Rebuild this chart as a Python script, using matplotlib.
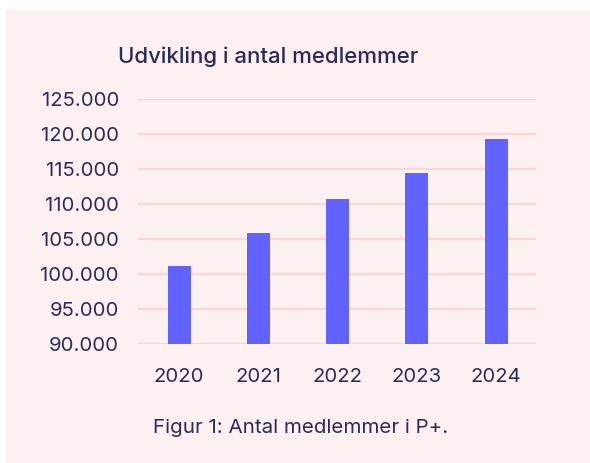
import matplotlib.pyplot as plt
from matplotlib.patches import Rectangle
from matplotlib.ticker import FuncFormatter

years = ["2020", "2021", "2022", "2023", "2024"]
members = [101200, 105900, 110750, 114450, 119300]
y_ticks = [90000, 95000, 100000, 105000, 110000, 115000, 120000, 125000]

navy = "#2b2a5c"
pink_bg = "#fdf0f0"
grid_col = "#fcd6d6"
bar_col = "#6262ff"

plt.rcParams["font.family"] = ["Inter", "DejaVu Sans"]

fig = plt.figure(figsize=(5.9, 4.63), dpi=100)
fig.patch.set_facecolor(pink_bg)
# white strips on top and left, the rest is the pink panel
fig.patches.append(Rectangle((0, 1 - 10 / 463), 1, 10 / 463 + 0.01, transform=fig.transFigure,
                             facecolor="white", edgecolor="none", zorder=-5))
fig.patches.append(Rectangle((0, 0), 6 / 590, 1, transform=fig.transFigure,
                             facecolor="white", edgecolor="none", zorder=-5))

ax = fig.add_axes([138 / 590, 1 - 344.3 / 463, (535.7 - 138) / 590, 245.3 / 463])
ax.set_facecolor("none")

x = range(len(years))
ax.bar(x, members, width=0.29, color=bar_col, zorder=3)

ax.set_ylim(90000, 125000)
ax.set_xlim(-0.52, 4.5)
ax.set_yticks(y_ticks)
ax.yaxis.set_major_formatter(FuncFormatter(lambda v, p: f"{int(v):,}".replace(",", ".")))
ax.set_xticks(list(x))
ax.set_xticklabels(years)
ax.grid(axis="y", color=grid_col, linewidth=1.6, zorder=0)
ax.tick_params(length=0, colors=navy, labelsize=14.6)
ax.tick_params(axis="y", pad=13.7)
ax.tick_params(axis="x", pad=17)
for s in ax.spines.values():
    s.set_visible(False)

fig.text(268 / 590, 1 - 57 / 463, "Udvikling i antal medlemmer", ha="center", va="center",
         fontsize=16, color=navy, fontweight="medium")
fig.text(301 / 590, 1 - 428 / 463, "Figur 1: Antal medlemmer i P+.", ha="center", va="center",
         fontsize=14.8, color=navy)

fig.savefig("out.png", dpi=100)
